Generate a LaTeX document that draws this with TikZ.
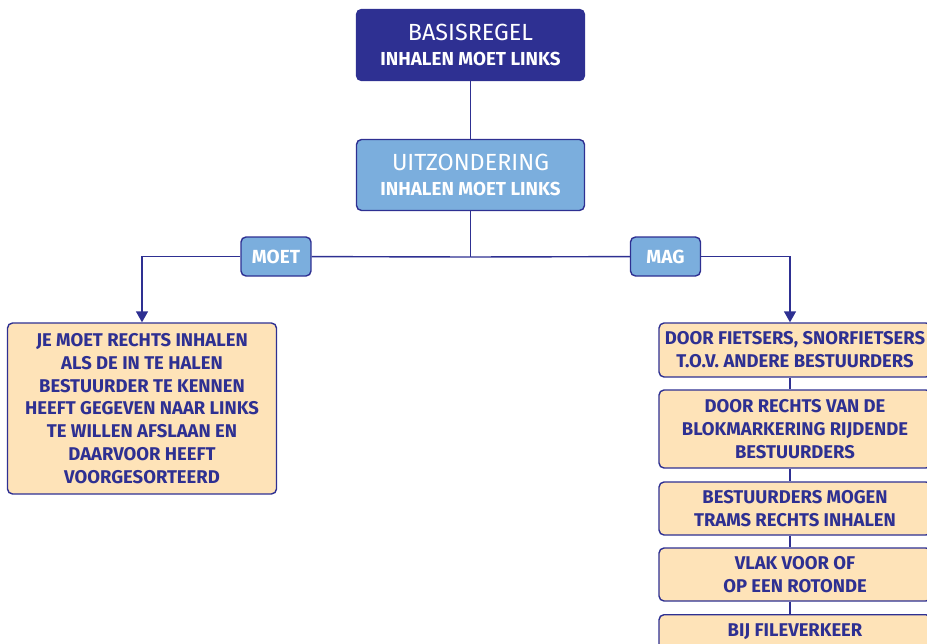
\documentclass[tikz,border=0pt]{standalone}
\usepackage{fontspec}
\setmainfont{Fira Sans}
\usetikzlibrary{arrows.meta,positioning}

\definecolor{donkerblauw}{HTML}{2E3092}
\definecolor{lichtblauw}{HTML}{7BAEDD}
\definecolor{perzik}{HTML}{FEE3B8}

\begin{document}
\begin{tikzpicture}[x=0.02cm,y=-0.02cm,
  vak/.style={draw=donkerblauw,line width=0.8pt,rounded corners=0.1cm,align=center,inner sep=0pt},
  kop/.style={vak,text=white,minimum width=4.56cm,minimum height=1.42cm},
  label/.style={vak,fill=lichtblauw,text=white,font=\fontsize{10.8}{12}\selectfont\bfseries,minimum width=1.4cm,minimum height=0.78cm},
  regel/.style={vak,fill=perzik,text=donkerblauw,font=\fontsize{10.5}{13}\selectfont\bfseries,minimum width=5.38cm},
  rechts/.style={regel,minimum width=5.44cm},
  lijn/.style={donkerblauw,line width=0.8pt},
  pijl/.style={lijn,-{Triangle[width=0.24cm,length=0.22cm]}}]
\useasboundingbox (0,0) rectangle (927,643);
\clip (0,0) rectangle (927,643);
% kop
\node[kop,fill=donkerblauw] (basis) at (470.5,45) {{\fontsize{13.3}{15}\selectfont BASISREGEL}\\[2.5pt]{\fontsize{10.7}{12}\selectfont\bfseries INHALEN MOET LINKS}};
\node[kop,fill=lichtblauw] (uitz) at (470.5,175) {{\fontsize{13.3}{15}\selectfont UITZONDERING}\\[2.5pt]{\fontsize{10.7}{12}\selectfont\bfseries INHALEN MOET LINKS}};
\coordinate (split) at (470.5,257);
\node[label] (moet) at (276,256.5) {MOET};
\node[label] (mag) at (665.5,256.5) {MAG};
% links
\node[regel,minimum height=3.42cm] (links) at (142,408.5) {JE MOET RECHTS INHALEN\\ALS DE IN TE HALEN\\BESTUURDER TE KENNEN\\HEEFT GEGEVEN NAAR LINKS\\TE WILLEN AFSLAAN EN\\DAARVOOR HEEFT\\VOORGESORTEERD};
% rechts
\node[rechts,minimum height=1.08cm] (r1) at (795,350) {DOOR FIETSERS, SNORFIETSERS\\T.O.V. ANDERE BESTUURDERS};
\node[rechts,minimum height=1.56cm] (r2) at (795,429) {DOOR RECHTS VAN DE\\BLOKMARKERING RIJDENDE\\BESTUURDERS};
\node[rechts,minimum height=1.06cm] (r3) at (795,508.5) {BESTUURDERS MOGEN\\TRAMS RECHTS INHALEN};
\node[rechts,minimum height=1.06cm] (r4) at (795,574.5) {VLAK VOOR OF\\OP EEN ROTONDE};
\node[rechts,minimum height=1.08cm,anchor=north] (r5) at (795,614) {BIJ FILEVERKEER\\\phantom{X}};
% verbindingen
\draw[lijn] (basis) -- (uitz);
\draw[lijn] (uitz) -- (split);
\draw[lijn] (split) -- (moet);
\draw[lijn] (split) -- (mag);
\draw[pijl] (moet) -| (links);
\draw[pijl] (mag) -| ([xshift=-0.1cm]r1.north);
\draw[lijn] ([xshift=-0.1cm]r1.south) -- ([xshift=-0.1cm]r2.north);
\draw[lijn] ([xshift=-0.1cm]r2.south) -- ([xshift=-0.1cm]r3.north);
\draw[lijn] ([xshift=-0.1cm]r3.south) -- ([xshift=-0.1cm]r4.north);
\draw[lijn] ([xshift=-0.1cm]r4.south) -- ([xshift=-0.1cm]r5.north);
\end{tikzpicture}
\end{document}
